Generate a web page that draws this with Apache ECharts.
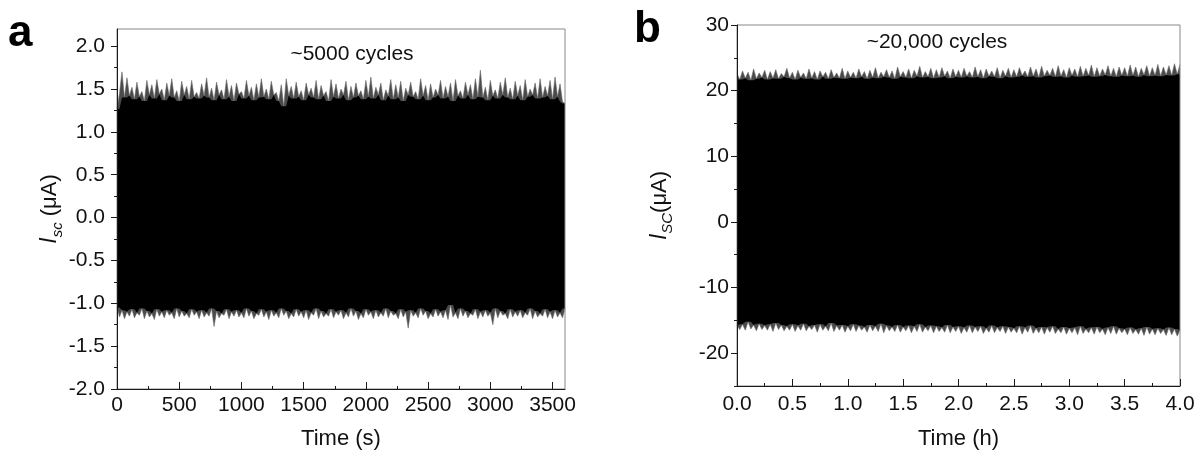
<!DOCTYPE html>
<html>
<head>
<meta charset="utf-8">
<script src="https://cdn.jsdelivr.net/npm/echarts@6/dist/echarts.min.js"></script>
<style>
html,body{margin:0;padding:0;background:#fff;}
#chart{width:1204px;height:462px;}
</style>
</head>
<body>
<div id="chart"></div>
<script>
// ---------- Panel a: envelope of Isc (uA) sampled every 20 s ----------
const stepA = 20;
const upperA = [
 1.27,1.45,1.70,1.40,1.63,1.42,1.52,1.38,1.58,1.41,1.47,1.36,1.60,1.43,1.55,1.39,1.61,1.44,1.50,1.37,
 1.57,1.42,1.62,1.40,1.48,1.36,1.59,1.43,1.53,1.38,1.60,1.41,1.46,1.39,1.56,1.42,1.63,1.40,1.51,1.37,
 1.58,1.43,1.49,1.38,1.61,1.41,1.54,1.36,1.57,1.44,1.47,1.39,1.60,1.42,1.52,1.37,1.56,1.40,1.62,1.41,
 1.50,1.38,1.59,1.43,1.46,1.36,1.55,1.30,1.62,1.42,1.53,1.39,1.58,1.41,1.48,1.37,1.57,1.43,1.51,1.40,
 1.60,1.38,1.54,1.42,1.47,1.36,1.61,1.41,1.56,1.39,1.50,1.43,1.59,1.37,1.53,1.40,1.57,1.42,1.48,1.38,
 1.60,1.41,1.64,1.39,1.52,1.43,1.57,1.37,1.49,1.42,1.61,1.38,1.55,1.40,1.59,1.36,1.51,1.43,1.58,1.41,
 1.47,1.38,1.62,1.42,1.54,1.37,1.56,1.40,1.50,1.43,1.60,1.39,1.53,1.41,1.57,1.36,1.61,1.42,1.48,1.39,
 1.58,1.43,1.55,1.38,1.62,1.41,1.72,1.40,1.52,1.37,1.60,1.42,1.49,1.39,1.58,1.43,1.63,1.40,1.51,1.38,
 1.59,1.42,1.54,1.37,1.61,1.41,1.50,1.43,1.57,1.39,1.62,1.40,1.53,1.42,1.60,1.38,1.64,1.41,1.56,1.35,
 1.33
];
const lowerA = [
 -1.05,-1.16,-1.08,-1.18,-1.10,-1.15,-1.07,-1.17,-1.11,-1.14,-1.06,-1.18,-1.09,-1.16,-1.12,-1.19,-1.07,-1.15,-1.10,-1.17,
 -1.08,-1.14,-1.11,-1.18,-1.06,-1.16,-1.09,-1.15,-1.12,-1.17,-1.07,-1.14,-1.10,-1.18,-1.08,-1.16,-1.11,-1.15,-1.06,-1.27,
 -1.09,-1.17,-1.12,-1.14,-1.07,-1.18,-1.10,-1.15,-1.08,-1.16,-1.11,-1.17,-1.06,-1.15,-1.09,-1.18,-1.12,-1.14,-1.07,-1.16,
 -1.10,-1.19,-1.08,-1.15,-1.11,-1.17,-1.06,-1.14,-1.09,-1.18,-1.12,-1.16,-1.07,-1.15,-1.10,-1.17,-1.08,-1.19,-1.11,-1.14,
 -1.06,-1.18,-1.09,-1.16,-1.12,-1.15,-1.07,-1.17,-1.10,-1.14,-1.08,-1.18,-1.11,-1.16,-1.06,-1.15,-1.09,-1.19,-1.12,-1.17,
 -1.07,-1.14,-1.10,-1.18,-1.08,-1.16,-1.11,-1.15,-1.06,-1.17,-1.09,-1.14,-1.12,-1.18,-1.07,-1.16,-1.10,-1.29,-1.08,-1.15,
 -1.11,-1.17,-1.06,-1.14,-1.09,-1.18,-1.12,-1.16,-1.07,-1.15,-1.10,-1.17,-1.08,-1.19,-1.02,-1.16,-1.11,-1.18,-1.06,-1.15,
 -1.09,-1.17,-1.12,-1.14,-1.07,-1.18,-1.10,-1.16,-1.08,-1.15,-1.11,-1.25,-1.06,-1.17,-1.09,-1.14,-1.12,-1.18,-1.07,-1.16,
 -1.10,-1.15,-1.08,-1.17,-1.11,-1.14,-1.06,-1.18,-1.09,-1.16,-1.12,-1.15,-1.07,-1.17,-1.10,-1.18,-1.08,-1.16,-1.11,-1.17,
 -1.06
];
const xLabelsA = [0,500,1000,1500,2000,2500,3000,3500];
const xMinorA = [250,750,1250,1750,2250,2750,3250];
const yLabelsA = [-2.0,-1.5,-1.0,-0.5,0.0,0.5,1.0,1.5,2.0];
const yMinorA = [-1.75,-1.25,-0.75,-0.25,0.25,0.75,1.25,1.75];

// ---------- Panel b: envelope of Isc (uA) sampled every 0.025 h ----------
const stepB = 0.025;
const upperB = [
 22.6,21.7,23.0,21.9,22.8,21.6,23.3,21.8,22.7,22.0,23.1,21.7,22.9,21.9,23.2,21.8,22.6,22.1,23.4,21.9,
 22.8,21.7,23.1,22.0,22.7,21.8,23.3,21.9,22.9,21.7,23.0,22.1,22.8,21.8,23.2,22.0,22.7,21.9,23.4,21.8,
 23.0,22.0,22.8,21.9,23.3,22.1,22.9,21.8,23.1,22.0,23.5,21.9,22.8,22.1,23.2,22.0,23.0,21.8,23.6,22.1,
 22.9,22.0,23.3,21.9,23.1,22.2,23.7,22.0,22.9,22.1,23.4,21.9,23.2,22.0,23.5,22.2,23.0,21.9,23.3,22.1,
 23.1,22.0,23.4,22.2,22.9,22.0,23.6,22.1,23.2,21.9,23.3,22.2,23.0,22.1,23.5,21.9,23.1,22.2,23.4,22.0,
 23.2,22.1,23.5,22.3,23.0,22.1,23.6,22.2,23.3,22.0,23.7,22.2,23.1,22.3,23.4,22.1,23.8,22.2,23.2,22.0,
 23.5,22.3,23.3,22.1,23.7,22.2,23.4,22.3,23.9,22.1,23.5,22.2,23.3,22.4,23.8,22.2,23.4,22.1,23.6,22.3,
 23.5,22.2,23.9,22.3,23.6,22.1,23.4,22.4,23.8,22.2,23.5,22.3,24.0,22.2,23.6,22.4,23.8,22.3,24.1,22.5,
 24.0
];
const lowerB = [
 -15.8,-16.4,-15.6,-16.5,-15.2,-16.3,-15.7,-16.6,-15.5,-16.4,-15.8,-16.5,-15.6,-16.7,-15.4,-16.4,-15.7,-16.6,-15.9,-16.5,
 -15.6,-16.7,-15.8,-16.5,-15.5,-16.6,-15.9,-16.4,-15.7,-16.8,-15.6,-16.5,-15.9,-16.6,-15.4,-16.7,-15.8,-16.5,-15.7,-16.8,
 -15.9,-16.6,-15.6,-16.7,-15.8,-16.5,-16.0,-16.8,-15.7,-16.6,-15.9,-16.7,-15.5,-16.9,-15.8,-16.6,-16.0,-16.7,-15.7,-16.8,
 -16.0,-16.6,-15.8,-16.9,-15.9,-16.7,-15.6,-16.8,-16.0,-16.6,-15.8,-16.9,-15.9,-16.7,-16.1,-16.8,-15.7,-16.9,-16.0,-16.7,
 -15.9,-17.0,-16.1,-16.8,-15.8,-16.9,-16.0,-16.7,-15.9,-17.0,-16.2,-16.8,-15.8,-16.9,-16.1,-16.7,-15.9,-17.0,-16.0,-16.8,
 -16.2,-16.9,-15.9,-17.1,-16.1,-16.8,-15.8,-17.0,-16.2,-16.9,-16.0,-17.1,-16.1,-16.8,-15.9,-17.0,-16.3,-16.9,-16.0,-17.1,
 -16.2,-16.9,-16.1,-17.2,-15.9,-17.0,-16.3,-16.9,-16.1,-17.1,-16.0,-16.9,-16.3,-17.2,-16.1,-17.0,-15.9,-17.1,-16.2,-16.9,
 -16.3,-17.2,-16.1,-17.0,-16.4,-17.1,-16.2,-17.3,-16.0,-17.1,-16.3,-17.2,-16.2,-17.0,-16.4,-17.3,-16.1,-17.2,-16.3,-17.4,
 -16.5
];
const xLabelsB = [0,0.5,1.0,1.5,2.0,2.5,3.0,3.5,4.0];
const xMinorB = [0.25,0.75,1.25,1.75,2.25,2.75,3.25,3.75];
const yLabelsB = [-20,-10,0,10,20,30];
const yMinorB = [-25,-15,-5,5,15,25];

// ---------- build ----------
const FONT = '"Liberation Sans", Arial, Helvetica, sans-serif';
const timesA = upperA.map((_, i) => i * stepA);
const timesB = upperB.map((_, i) => Math.round(i * stepB * 1000) / 1000);

function majorAxis(gridIndex, min, max, values, fmt, tickInside, tickLen, margin, extra) {
  return Object.assign({
    gridIndex, type: 'value', min, max, z: 10,
    axisLine: { show: true, onZero: false, lineStyle: { color: '#1a1a1a', width: 1 } },
    axisTick: { show: true, inside: tickInside, length: tickLen, customValues: values, lineStyle: { color: '#1a1a1a', width: 1 } },
    axisLabel: { show: true, customValues: values, formatter: fmt, margin, fontSize: 21, color: '#111', fontFamily: FONT },
    splitLine: { show: false }
  }, extra);
}
function minorAxis(gridIndex, min, max, values, tickInside, pos) {
  return {
    gridIndex, type: 'value', min, max, position: pos, z: 10,
    axisLine: { show: false, onZero: false },
    axisTick: { show: true, inside: tickInside, length: 3, customValues: values, lineStyle: { color: '#1a1a1a', width: 1 } },
    axisLabel: { show: false },
    splitLine: { show: false }
  };
}
// Layers (each filled down to the axis bottom, later ones on top):
// peaks -> grey, inner upper envelope -> black, inner lower envelope -> grey, troughs -> white.
function inner(arr, pick) {
  return arr.map((v, i) => pick(arr[Math.max(0, i - 1)], v, arr[Math.min(arr.length - 1, i + 1)]));
}
function bandSeries(times, lower, upper, xi, yi) {
  const upBody = inner(upper, Math.min);
  const lowBody = inner(lower, Math.max);
  const pts = (vals) => times.map((t, i) => [t, vals[i]]);
  const base = { type: 'line', xAxisIndex: xi, yAxisIndex: yi, symbol: 'none', silent: true };
  const layer = (vals, z, fill, stroke) => Object.assign({}, base, {
    data: pts(vals), z,
    lineStyle: stroke ? { color: stroke, width: 0.6 } : { width: 0 },
    areaStyle: { color: fill, opacity: 1, origin: 'start' }
  });
  return [
    layer(upper, 2, '#4a4a4a', '#6a6a6a'),
    layer(upBody, 3, '#000', null),
    layer(lowBody, 4, '#4a4a4a', null),
    layer(lower, 5, '#fff', '#6a6a6a')
  ];
}

const nameStyle = () => ({
  fontFamily: FONT, fontSize: 22, color: '#111',
  rich: {
    i: { fontFamily: FONT, fontSize: 23, fontStyle: 'italic', color: '#111', lineHeight: 30, verticalAlign: 'middle' },
    s: { fontFamily: FONT, fontSize: 15, fontStyle: 'italic', color: '#111', lineHeight: 15, verticalAlign: 'bottom' },
    n: { fontFamily: FONT, fontSize: 22, color: '#111', lineHeight: 30, verticalAlign: 'middle' }
  }
});

const chart = echarts.init(document.getElementById('chart'), null, { renderer: 'canvas' });
chart.setOption({
  animation: false,
  backgroundColor: '#fff',
  grid: [
    { left: 117, top: 29, width: 448, height: 360, show: true, borderColor: '#888', borderWidth: 1, backgroundColor: 'transparent', z: 9 },
    { left: 737, top: 25, width: 443, height: 361, show: true, borderColor: '#888', borderWidth: 1, backgroundColor: 'transparent', z: 9 }
  ],
  xAxis: [
    majorAxis(0, 0, 3600, xLabelsA, v => String(v), true, 7, 6,
      { position: 'bottom', name: 'Time (s)', nameLocation: 'middle', nameGap: 39,
        nameTextStyle: { fontFamily: FONT, fontSize: 22, color: '#111' } }),
    minorAxis(0, 0, 3600, xMinorA, true, 'bottom'),
    majorAxis(1, 0, 4, xLabelsB, v => v.toFixed(1), true, 7, 8,
      { position: 'bottom', name: 'Time (h)', nameLocation: 'middle', nameGap: 42,
        nameTextStyle: { fontFamily: FONT, fontSize: 22, color: '#111' } }),
    minorAxis(1, 0, 4, xMinorB, true, 'bottom')
  ],
  yAxis: [
    majorAxis(0, -2, 2.2, yLabelsA, v => v.toFixed(1), false, 6, 12,
      { position: 'left', name: '{i|I}{s|sc}{n| (μA)}', nameLocation: 'middle', nameRotate: 90, nameGap: 48,
        nameTextStyle: nameStyle() }),
    minorAxis(0, -2, 2.2, yMinorA, false, 'left'),
    majorAxis(1, -25, 30, yLabelsB, v => String(v), false, 6, 8,
      { position: 'left', name: '{i|I}{s|SC}{n|(μA)}', nameLocation: 'middle', nameRotate: 90, nameGap: 62,
        nameTextStyle: nameStyle() }),
    minorAxis(1, -25, 30, yMinorB, false, 'left')
  ],
  series: [
    ...bandSeries(timesA, lowerA, upperA, 0, 0),
    ...bandSeries(timesB, lowerB, upperB, 2, 2)
  ],
  graphic: [
    { type: 'text', x: 8, y: 34, style: { text: 'a', font: 'bold 44px ' + FONT, fill: '#000', align: 'left', verticalAlign: 'middle' } },
    { type: 'text', x: 634, y: 30, style: { text: 'b', font: 'bold 44px ' + FONT, fill: '#000', align: 'left', verticalAlign: 'middle' } },
    { type: 'text', x: 352, y: 54, style: { text: '~5000 cycles', font: '21px ' + FONT, fill: '#111', align: 'center', verticalAlign: 'middle' } },
    { type: 'text', x: 937, y: 42, style: { text: '~20,000 cycles', font: '21px ' + FONT, fill: '#111', align: 'center', verticalAlign: 'middle' } }
  ]
});
</script>
</body>
</html>
